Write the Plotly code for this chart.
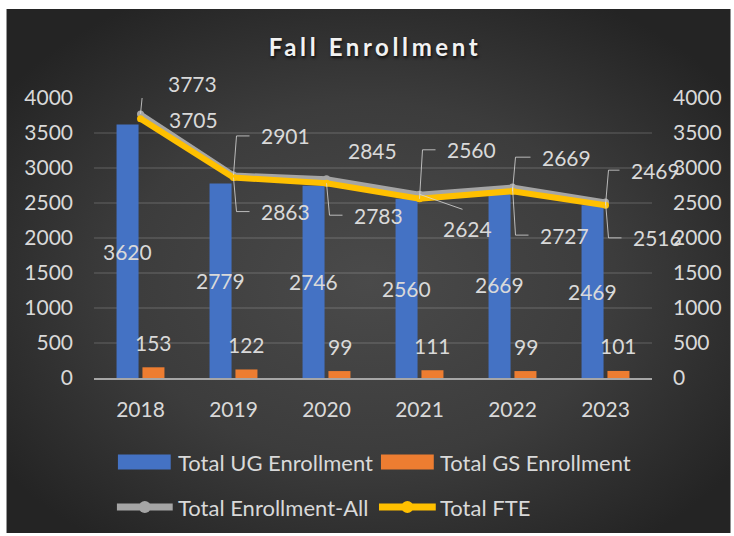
import base64
import plotly.graph_objects as go

# ---- data -------------------------------------------------------------
years = ["2018", "2019", "2020", "2021", "2022", "2023"]
ug_enrollment = [3620, 2779, 2746, 2560, 2669, 2469]
gs_enrollment = [153, 122, 99, 111, 99, 101]
total_enrollment_all = [3773, 2901, 2845, 2624, 2727, 2516]
total_fte = [3705, 2863, 2783, 2560, 2669, 2469]
y_ticks = [0, 500, 1000, 1500, 2000, 2500, 3000, 3500, 4000]

series_names = ["Total UG Enrollment", "Total GS Enrollment",
                "Total Enrollment-All", "Total FTE"]

# label placement for the line series (pixels right, pixels up) and leader style
all_label_offsets = [(25, 30), (25, 39), (19, 28), (21, -34), (25, -48), (25, -36)]
all_leaders = ["elbow", "elbow", None, "diag", "elbow", "elbow"]
fte_label_offsets = [(26, -1), (25, -34), (25, -32), (25, 49), (27, 34), (23, 35)]
fte_leaders = [None, "elbow", "elbow", "elbow", "elbow", "elbow"]

# ---- styling ----------------------------------------------------------
W, H = 734, 536
M_L, M_R, M_T, M_B = 94, 80, 98, 158
FONT = "Lato"
TXT = "#d9d9d9"
BLUE, ORANGE, GRAY, GOLD = "#4472C4", "#ED7D31", "#A5A5A5", "#FFC000"
LEADER = "rgba(217,217,217,0.8)"

plot_w = W - M_L - M_R
plot_h = H - M_T - M_B


def px_x(p):
    return (p - M_L) / plot_w


def px_y(p):
    return (H - M_B - p) / plot_h


x = list(range(len(years)))

fig = go.Figure()
fig.add_trace(go.Bar(x=x, y=ug_enrollment, name=series_names[0],
                     marker=dict(color=BLUE, line=dict(width=0))))
fig.add_trace(go.Bar(x=x, y=gs_enrollment, name=series_names[1],
                     marker=dict(color=ORANGE, line=dict(width=0))))
fig.add_trace(go.Scatter(x=x, y=total_enrollment_all, name=series_names[2],
                         yaxis="y2", mode="lines+markers",
                         line=dict(color=GRAY, width=5),
                         marker=dict(color=GRAY, size=7)))
fig.add_trace(go.Scatter(x=x, y=total_fte, name=series_names[3],
                         yaxis="y2", mode="lines+markers",
                         line=dict(color=GOLD, width=6),
                         marker=dict(color=GOLD, size=7)))

annotations = []
shapes = []
lab_font = dict(family=FONT, size=21, color=TXT)

# bar value labels
for i, v in enumerate(ug_enrollment):
    annotations.append(dict(x=i, y=v / 2, xref="x", yref="y", xshift=-13,
                            text=str(v), showarrow=False, font=lab_font,
                            xanchor="center", yanchor="middle"))
for i, v in enumerate(gs_enrollment):
    annotations.append(dict(x=i, y=v, xref="x", yref="y", xshift=13, yshift=25,
                            text=str(v), showarrow=False, font=lab_font,
                            xanchor="center", yanchor="middle"))

# line value labels with leader lines
for values, offsets, leaders in ((total_enrollment_all, all_label_offsets, all_leaders),
                                 (total_fte, fte_label_offsets, fte_leaders)):
    for i, v in enumerate(values):
        dx, dy = offsets[i]
        annotations.append(dict(x=i, y=v, xref="x", yref="y2", xshift=dx, yshift=dy,
                                text=str(v), showarrow=False, font=lab_font,
                                xanchor="left", yanchor="middle"))
        kind = leaders[i]
        if kind == "elbow":
            path = f"M0,0 L3,{dy} L{dx - 9},{dy}"
        elif kind == "diag":
            path = f"M0,0 L{dx + 22},{dy + 19}"
        else:
            continue
        shapes.append(dict(type="path", xref="x", yref="y2",
                           xsizemode="pixel", ysizemode="pixel",
                           xanchor=i, yanchor=v, path=path,
                           line=dict(color=LEADER, width=1)))

# legend drawn as swatches and labels
leg_font = dict(family=FONT, size=22, color=TXT)
row1, row2 = 462, 507
for (x0, x1, tx), color, name in (((118, 171, 176), BLUE, series_names[0]),
                                  ((382, 435, 439), ORANGE, series_names[1])):
    shapes.append(dict(type="rect", xref="paper", yref="paper",
                       x0=px_x(x0), x1=px_x(x1), y0=px_y(row1 + 7.5), y1=px_y(row1 - 7.5),
                       fillcolor=color, line=dict(width=0), layer="above"))
    annotations.append(dict(x=px_x(tx), y=px_y(row1), xref="paper", yref="paper",
                            text=name, showarrow=False, font=leg_font,
                            xanchor="left", yanchor="middle"))
for (x0, x1, tx), color, name in (((117, 173, 176), GRAY, series_names[2]),
                                  ((380, 437, 439), GOLD, series_names[3])):
    shapes.append(dict(type="line", xref="paper", yref="paper",
                       x0=px_x(x0), x1=px_x(x1), y0=px_y(row2), y1=px_y(row2),
                       line=dict(color=color, width=7), layer="above"))
    cx = (x0 + x1) / 2
    shapes.append(dict(type="circle", xref="paper", yref="paper",
                       x0=px_x(cx - 6), x1=px_x(cx + 6), y0=px_y(row2 + 6), y1=px_y(row2 - 6),
                       fillcolor=color, line=dict(width=0), layer="above"))
    annotations.append(dict(x=px_x(tx), y=px_y(row2), xref="paper", yref="paper",
                            text=name, showarrow=False, font=leg_font,
                            xanchor="left", yanchor="middle"))

# dark radial-gradient chart area
bx0, by0, bx1, by1 = 6, 9, 733, 533
bw, bh = bx1 - bx0, by1 - by0
svg = (f'<svg xmlns="http://www.w3.org/2000/svg" width="{bw}" height="{bh}" '
       f'viewBox="0 0 {bw} {bh}" preserveAspectRatio="none">'
       '<defs><radialGradient id="g" cx="50%" cy="52%" r="62%">'
       '<stop offset="0" stop-color="#4a4a4a"/>'
       '<stop offset="0.55" stop-color="#3c3c3c"/>'
       '<stop offset="1" stop-color="#242424"/>'
       '</radialGradient></defs>'
       f'<rect width="{bw}" height="{bh}" fill="url(#g)"/></svg>')
bg_src = "data:image/svg+xml;base64," + base64.b64encode(svg.encode()).decode()

# spaced-out title lettering
title_text = "<b><span style='letter-spacing:3.6px'>Fall Enrollment</span></b>"

axis_font = dict(family=FONT, size=21, color=TXT)
fig.update_layout(
    width=W, height=H,
    margin=dict(l=M_L, r=M_R, t=M_T, b=M_B, pad=0),
    paper_bgcolor="white",
    plot_bgcolor="rgba(0,0,0,0)",
    showlegend=False,
    barmode="group", bargap=0.443, bargroupgap=0.15,
    title=dict(text=title_text, x=375 / W, y=1 - 48 / H,
               xref="container", yref="container",
               xanchor="center", yanchor="middle",
               font=dict(family=FONT, size=24, color="#f2f2f2",
                         shadow="1px 2px 3px rgba(0,0,0,0.75)")),
    xaxis=dict(range=[-0.5, len(years) - 0.5], tickvals=x, ticktext=years,
               showgrid=False, zeroline=False, ticks="",
               showline=True, linecolor="#a6a6a6", linewidth=2,
               tickfont=axis_font, ticklabelstandoff=12),
    yaxis=dict(range=[0, 4000], tickvals=y_ticks, showgrid=True,
               gridcolor="rgba(255,255,255,0.11)", gridwidth=1.5,
               zeroline=False, ticks="", tickfont=axis_font,
               ticklabelstandoff=20, showline=False),
    yaxis2=dict(range=[0, 4000], tickvals=y_ticks, overlaying="y", side="right",
                showgrid=False, zeroline=False, ticks="", tickfont=axis_font,
                ticklabelstandoff=20, showline=False),
    images=[dict(source=bg_src, xref="paper", yref="paper",
                 x=px_x(bx0), y=px_y(by0), sizex=bw / plot_w, sizey=bh / plot_h,
                 xanchor="left", yanchor="top", sizing="stretch", layer="below")],
    annotations=annotations,
    shapes=shapes,
)

fig.write_html("out.html")
